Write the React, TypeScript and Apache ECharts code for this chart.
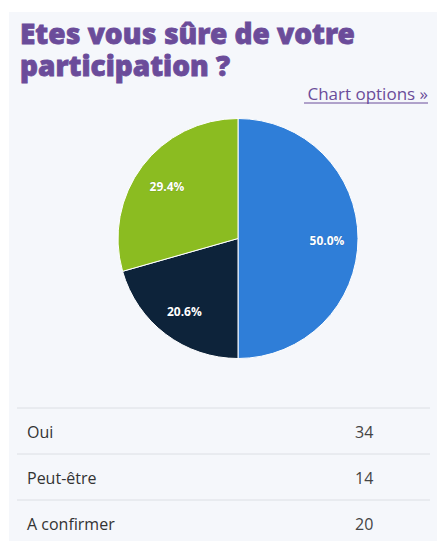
import React, { useEffect, useRef } from "react";
import * as echarts from "echarts";

const categories = ["Oui", "Peut-être", "A confirmer"];
const values = [34, 14, 20];
const colors = ["#2f7ed8", "#0d233a", "#8bbc21"];
const titleText = "Etes vous sûre de votre\nparticipation ?";
const linkText = "Chart options »";

export default function App() {
  const ref = useRef<HTMLDivElement>(null);
  useEffect(() => {
    if (!ref.current) return;
    const chart = echarts.init(ref.current, undefined, { renderer: "svg" });
    const total = values.reduce((a, b) => a + b, 0);
    const data = categories.map((name, i) => ({
      name,
      value: values[i],
      itemStyle: { color: colors[i] },
    }));
    const rowTop = 408;
    const rowH = 46;
    const rows: any[] = [];
    categories.forEach((c, i) => {
      const y = rowTop + i * rowH;
      rows.push({
        type: "line",
        shape: { x1: 17, y1: y, x2: 430, y2: y },
        style: { stroke: "#dcdfe4", lineWidth: 1 },
        silent: true,
      });
      rows.push({
        type: "text",
        x: 27,
        y: y + rowH / 2 + 1,
        style: {
          text: c,
          fill: "#333333",
          font: "16px 'Open Sans'",
          textVerticalAlign: "middle",
        },
      });
      rows.push({
        type: "text",
        x: 355,
        y: y + rowH / 2 + 1,
        style: {
          text: String(values[i]),
          fill: "#444444",
          font: "16px 'Open Sans'",
          textVerticalAlign: "middle",
        },
      });
    });
    chart.setOption({
      animation: false,
      backgroundColor: "#ffffff",
      title: {
        text: titleText,
        left: 15,
        top: 12,
        textStyle: {
          color: "#6b4c9a",
          fontFamily: "'Open Sans ExtraBold', 'Open Sans'",
          fontWeight: 800,
          fontSize: 28,
          lineHeight: 32,
          textBorderColor: "#6b4c9a",
          textBorderWidth: 0.8,
        },
      },
      graphic: [
        {
          type: "rect",
          z: -10,
          silent: true,
          shape: { x: 9, y: 12, width: 428, height: 529 },
          style: { fill: "#f5f7fb" },
        },
        {
          type: "text",
          x: 428,
          y: 93,
          style: {
            text: linkText,
            fill: "#6b4c9a",
            font: "17px 'Open Sans'",
            textAlign: "right",
            textVerticalAlign: "middle",
          },
        },
        {
          type: "line",
          shape: { x1: 304, y1: 103, x2: 428, y2: 103 },
          style: { stroke: "#6b4c9a", lineWidth: 1 },
        },
        ...rows,
      ],
      series: [
        {
          type: "pie",
          center: [238, 238.5],
          radius: [0, 120],
          startAngle: 90,
          clockwise: true,
          data,
          label: { show: false },
          labelLine: { show: false },
          itemStyle: { borderColor: "#ffffff", borderWidth: 1 },
          emphasis: { disabled: true },
        },
        {
          type: "pie",
          center: [238, 238.5],
          radius: [52, 120],
          startAngle: 90,
          clockwise: true,
          silent: true,
          data: categories.map((name, i) => ({ name, value: values[i] })),
          itemStyle: { color: "rgba(0,0,0,0)" },
          label: {
            show: true,
            position: "inside",
            offset: [0, 2],
            formatter: (p: any) => ((p.value / total) * 100).toFixed(1) + "%",
            color: "#ffffff",
            fontFamily: "'Open Sans'",
            fontWeight: "bold",
            fontSize: 12,
            textBorderColor: "rgba(0,0,0,0.15)",
            textBorderWidth: 1,
          },
          labelLine: { show: false },
          emphasis: { disabled: true },
        },
      ],
    });
    return () => chart.dispose();
  }, []);
  return (
    <div
      ref={ref}
      style={{ position: "fixed", left: 0, top: 0, width: 437, height: 541 }}
    />
  );
}
